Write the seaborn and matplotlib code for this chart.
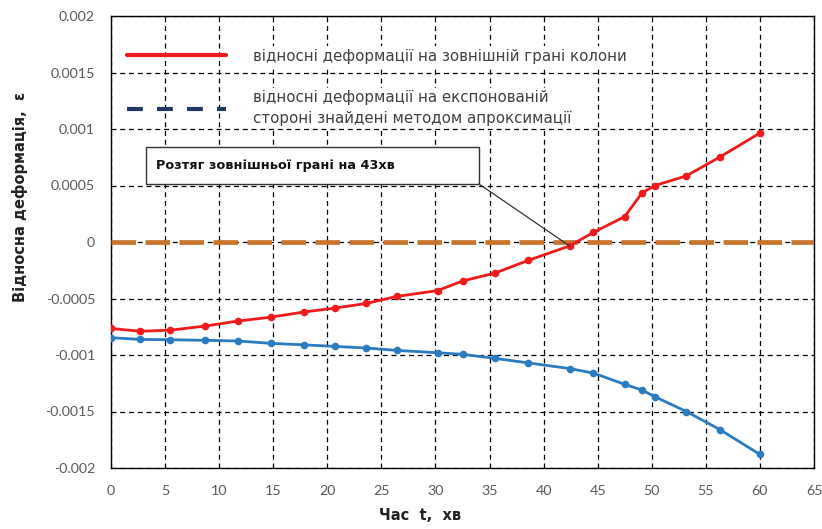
import matplotlib
matplotlib.use("Agg")
import matplotlib.pyplot as plt
import matplotlib.ticker as mticker
from matplotlib.lines import Line2D
from matplotlib.patches import Rectangle
import seaborn as sns
import pandas as pd

# ---- data ----
time_min = [0, 2.7, 5.5, 8.7, 11.7, 14.8, 17.8, 20.7, 23.6, 26.4, 30.2,
            32.5, 35.5, 38.6, 42.4, 44.6, 47.5, 49.1, 50.3, 53.2, 56.3, 60]
eps_outer = [-0.000765, -0.000790, -0.000780, -0.000744, -0.000700, -0.000665,
             -0.000620, -0.000585, -0.000544, -0.000482, -0.000430, -0.000345,
             -0.000275, -0.000162, -0.000035, 0.000085, 0.000225, 0.000435,
             0.000500, 0.000585, 0.000752, 0.000964]
eps_exposed = [-0.000847, -0.000862, -0.000865, -0.000870, -0.000876, -0.000897,
               -0.000910, -0.000924, -0.000938, -0.000959, -0.000980, -0.000994,
               -0.001030, -0.001070, -0.001120, -0.001160, -0.001260, -0.001310,
               -0.001370, -0.001500, -0.001660, -0.001880]
zero_t = [0, 65]
zero_eps = [0, 0]

x_ticks = list(range(0, 70, 5))
y_ticks = [-0.002, -0.0015, -0.001, -0.0005, 0, 0.0005, 0.001, 0.0015, 0.002]

legend_labels = ["відносні деформації на зовнішній грані колони",
                 "відносні деформації на експонованій\nстороні знайдені методом апроксимації"]
annot_text = "Розтяг зовнішньої грані на 43хв"
annot_point = (42.4, -0.000035)
xlabel = "Час  t,  хв"
ylabel = "Відносна деформація,  ε"

RED = "#F01A1A"
BLUE = "#2A7BC0"
ORANGE = "#C8742D"
NAVY = "#1F3864"
NARROW = ['Liberation Sans Narrow', 'DejaVu Sans']

sns.set_theme(style="white")
plt.rcParams['font.family'] = ['DejaVu Sans']

fig = plt.figure(figsize=(8.22, 5.29), dpi=100)
ax = fig.add_axes([111 / 822, 61 / 529, 703 / 822, 452 / 529])

df = pd.DataFrame({"t": time_min, "outer": eps_outer, "exposed": eps_exposed})
dz = pd.DataFrame({"t": zero_t, "eps": zero_eps})

sns.lineplot(data=dz, x="t", y="eps", ax=ax, color=ORANGE, linewidth=3.4, zorder=3)
ax.lines[-1].set_dashes([5.2, 2.0])
sns.lineplot(data=df, x="t", y="exposed", ax=ax, color=BLUE, linewidth=2,
             marker="o", markersize=5.5, markeredgewidth=0, zorder=4)
sns.lineplot(data=df, x="t", y="outer", ax=ax, color=RED, linewidth=2,
             marker="o", markersize=5.5, markeredgewidth=0, zorder=5)

ax.set_xlim(0, 65)
ax.set_ylim(-0.002, 0.002)
ax.set_xticks(x_ticks)
ax.set_yticks(y_ticks)
ax.yaxis.set_major_formatter(mticker.FuncFormatter(lambda v, p: "0" if abs(v) < 1e-12 else f"{v:g}"))
ax.tick_params(axis="both", length=0, labelsize=10.3, labelcolor="#595959")
ax.tick_params(axis="y", pad=11.5)
ax.tick_params(axis="x", pad=12)
for lab in ax.get_xticklabels() + ax.get_yticklabels():
    lab.set_family(['Lato', 'DejaVu Sans'])

ax.grid(True, color="black", linestyle=(0, (4, 3)), linewidth=0.9)
for s in ax.spines.values():
    s.set_visible(True)
    s.set_color("black")
    s.set_linewidth(1.0)

ax.set_xlabel(xlabel, fontsize=10.5, fontweight="bold", color="#222222", family=NARROW)
ax.xaxis.set_label_coords(0.44, -0.088)
ax.set_ylabel(ylabel, fontsize=10.5, fontweight="bold", color="#222222", family=NARROW)
ax.yaxis.set_label_coords(-0.118, 0.60)

handles = [Line2D([], [], color=RED, linewidth=3),
           Line2D([], [], color=NAVY, linewidth=3, dashes=[3.8, 3.4])]
leg = ax.legend(handles, legend_labels, loc="upper left", bbox_to_anchor=(0.023, 0.928),
                frameon=False, fontsize=10.8, handlelength=6.6, handletextpad=1.8,
                labelspacing=1.75, borderpad=0, borderaxespad=0, labelcolor="#404040")
for t in leg.get_texts():
    t.set_linespacing(1.5)
    t.set_bbox(dict(facecolor="white", edgecolor="none", pad=1.5))

# annotation box + leader line
box_x0, box_x1 = 3.2, 34.0
box_y0, box_y1 = 0.000515, 0.000837
ax.add_patch(Rectangle((box_x0, box_y0), box_x1 - box_x0, box_y1 - box_y0,
                       facecolor="white", edgecolor="#333333", linewidth=1, zorder=6))
ax.text(box_x0 + 1.0, (box_y0 + box_y1) / 2, annot_text, ha="left", va="center",
        fontsize=9.3, fontweight="bold", family=NARROW, color="#111111", zorder=7)
ax.annotate("", xy=annot_point, xytext=(box_x1, box_y0),
            arrowprops=dict(arrowstyle="-", color="#333333", linewidth=0.9,
                            shrinkA=0, shrinkB=0), zorder=6)

fig.savefig("out.png", dpi=100)
